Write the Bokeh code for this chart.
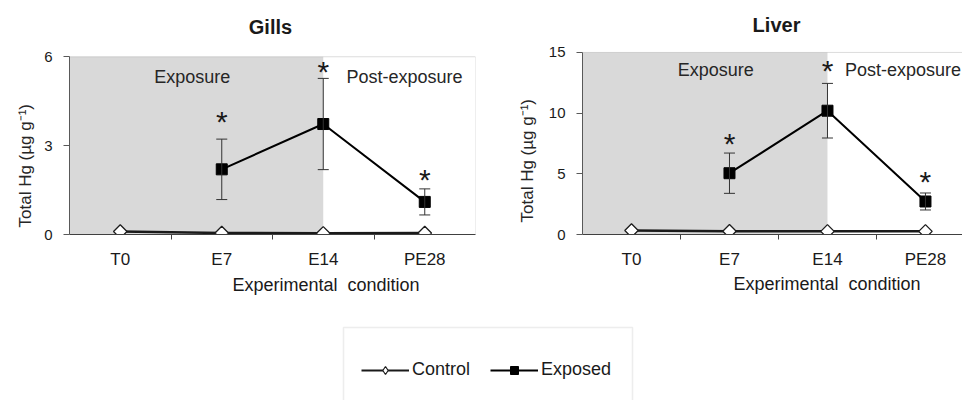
import numpy as np
from bokeh.plotting import figure
from bokeh.models import (Range1d, FixedTicker, ColumnDataSource, Whisker, TeeHead,
                          BoxAnnotation, Title, Legend, LegendItem)
from bokeh.layouts import column, row
from bokeh.core.properties import value
from bokeh.embed import file_html
from bokeh.resources import INLINE

FONT = "Liberation Sans"

# ---------------- data ----------------
categories = ["T0", "E7", "E14", "PE28"]
exposed_categories = ["E7", "E14", "PE28"]
phase_labels = ["Exposure", "Post-exposure"]

gills_control = [0.10, 0.05, 0.04, 0.05]
gills_exposed = [2.20, 3.73, 1.10]
gills_exposed_sd = [1.02, 1.54, 0.44]
gills_star_y = [3.90, 5.62, 1.96]
gills_yticks = [0, 3, 6]

liver_control = [0.33, 0.27, 0.26, 0.26]
liver_exposed = [5.05, 10.20, 2.72]
liver_exposed_sd = [1.66, 2.25, 0.70]
liver_star_y = [7.74, 13.77, 4.58]
liver_yticks = [0, 5, 10, 15]

y_label = "Total Hg (\u00b5g g\u207b\u00b9)"
x_label = "Experimental\u00a0 condition"

xpos = [i + 0.5 for i in range(len(categories))]
xpos_exp = [categories.index(c) + 0.5 for c in exposed_categories]
bounds = [i for i in range(1, len(categories))]
exposure_end = categories.index("E14") + 0.5


def make_panel(title, control, exposed, sd, star_y, yticks, ymax, ytop, xmax, width,
               borders, ylabel_off, ylabel_standoff, phase_xy, title_xy,
               xlabel_off, xlabel_standoff):
    bl, br, bb = borders
    p = figure(width=width, height=318, x_range=Range1d(0, xmax), y_range=Range1d(0, ytop),
               output_backend="svg", toolbar_location=None, title=None,
               min_border_left=bl, min_border_right=br, min_border_top=0, min_border_bottom=bb)
    p.grid.visible = False
    p.outline_line_color = None

    p.add_layout(Title(text=x_label, align="left", offset=xlabel_off,
                       standoff=xlabel_standoff, text_font=FONT, text_font_size="18px",
                       text_font_style="normal", text_color="#1a1a1a"), "below")
    p.add_layout(Title(text=y_label, align="left", offset=ylabel_off,
                       standoff=ylabel_standoff, text_font=FONT, text_font_size="17px",
                       text_font_style="normal", text_color="#262626"), "left")

    # shaded exposure phase and plot-area box
    p.add_layout(BoxAnnotation(right=exposure_end, top=ymax, fill_color="#d9d9d9",
                               fill_alpha=1.0, line_color=None, level="underlay"))
    p.add_layout(BoxAnnotation(left=0, right=xmax, bottom=0, top=ymax, fill_alpha=0,
                               line_color="#8c8c8c", line_width=1, level="underlay"))

    src = ColumnDataSource(dict(base=xpos_exp,
                                upper=[v + s for v, s in zip(exposed, sd)],
                                lower=[v - s for v, s in zip(exposed, sd)]))
    w = Whisker(base="base", upper="upper", lower="lower", source=src,
                line_color="#333333", line_width=1, level="glyph",
                upper_head=TeeHead(size=11, line_color="#333333", line_width=1),
                lower_head=TeeHead(size=11, line_color="#333333", line_width=1))
    p.add_layout(w)

    p.line(xpos, control, line_color="#1a1a1a", line_width=2.5)
    p.scatter(xpos, control, marker="square", angle=np.pi / 4, size=9.5,
              fill_color="white", line_color="#1a1a1a", line_width=1.3)
    p.line(xpos_exp, exposed, line_color="black", line_width=2)
    p.scatter(xpos_exp, exposed, marker="square", size=11, fill_color="black", line_color="black")

    p.text(x=xpos_exp, y=star_y, text=["*"] * len(star_y), text_font=value(FONT),
           text_font_size="30px", text_align="center", text_baseline="alphabetic",
           y_offset=3, text_color="#1a1a1a")

    p.text(x=[xy[0] for xy in phase_xy], y=[xy[1] for xy in phase_xy], text=phase_labels,
           text_font=value(FONT), text_font_size="18px", text_align="center",
           text_baseline="middle", text_color="#262626")

    p.text(x=[title_xy[0]], y=[title_xy[1]], text=[title], text_font=value(FONT),
           text_font_size="20px", text_font_style="bold", text_align="center",
           text_baseline="middle", text_color="#1a1a1a")

    xa = p.xaxis[0]
    xa.ticker = FixedTicker(ticks=xpos, minor_ticks=bounds)
    xa.major_label_overrides = {x: c for x, c in zip(xpos, categories)}
    xa.major_tick_line_color = None
    xa.major_tick_out = 6
    xa.major_tick_in = 0
    xa.minor_tick_line_color = "#404040"
    xa.minor_tick_out = 5
    xa.minor_tick_in = 0
    xa.axis_line_color = "#404040"
    xa.major_label_text_font = FONT
    xa.major_label_text_font_size = "17px"
    xa.major_label_text_color = "#1a1a1a"
    xa.major_label_standoff = 9

    ya = p.yaxis[0]
    ya.bounds = (0, ymax)
    ya.ticker = FixedTicker(ticks=yticks, minor_ticks=[])
    ya.major_tick_out = 6
    ya.major_tick_in = 0
    ya.major_tick_line_color = "#595959"
    ya.minor_tick_line_color = None
    ya.axis_line_color = "#595959"
    ya.major_label_text_font = FONT
    ya.major_label_text_font_size = "15px"
    ya.major_label_text_color = "#1a1a1a"
    ya.major_label_standoff = 11
    return p


p1 = make_panel("Gills", gills_control, gills_exposed, gills_exposed_sd, gills_star_y,
                gills_yticks, 6, 7.9, 4, 480, (69, 5, 81), 7, 13,
                [(1.21, 5.33), (3.30, 5.33)], (1.98, 7.0), 163, 3)
p2 = make_panel("Liver", liver_control, liver_exposed, liver_exposed_sd, liver_star_y,
                liver_yticks, 15, 19.28, 3.878, 482, (102, 0, 84), 12, 17,
                [(1.36, 13.58), (3.27, 13.58)], (1.98, 17.3), 151, 0)

# ---------------- legend panel ----------------
p3 = figure(width=962, height=82, x_range=Range1d(0, 962), y_range=Range1d(0, 82),
            output_backend="svg", toolbar_location=None, min_border=0,
            x_axis_type=None, y_axis_type=None)
p3.outline_line_color = None
p3.add_layout(BoxAnnotation(left=343, right=632, top=73, bottom=-5, fill_alpha=0,
                            line_color="#c4c4c4", line_width=1.5))
nan = [float("nan")]
l1 = p3.line(x=nan, y=nan, line_color="#1a1a1a", line_width=2)
s1 = p3.scatter(x=nan, y=nan, marker="diamond", size=10, fill_color="white",
                line_color="#1a1a1a", line_width=1.2)
l2 = p3.line(x=nan, y=nan, line_color="black", line_width=2)
s2 = p3.scatter(x=nan, y=nan, marker="square", size=8, fill_color="black", line_color="black")
legend = Legend(items=[LegendItem(label="Control", renderers=[l1, s1]),
                       LegendItem(label="Exposed", renderers=[l2, s2])],
                orientation="horizontal", location=(361, 20), glyph_width=48,
                glyph_height=20, label_height=20, label_standoff=3, spacing=20,
                padding=0, margin=0, border_line_color=None, background_fill_alpha=0,
                label_text_font=FONT, label_text_font_size="18px",
                label_text_color="#1a1a1a")
p3.add_layout(legend)

layout = column(row(p1, p2), p3)
open("out.html", "w").write(file_html(layout, INLINE))
